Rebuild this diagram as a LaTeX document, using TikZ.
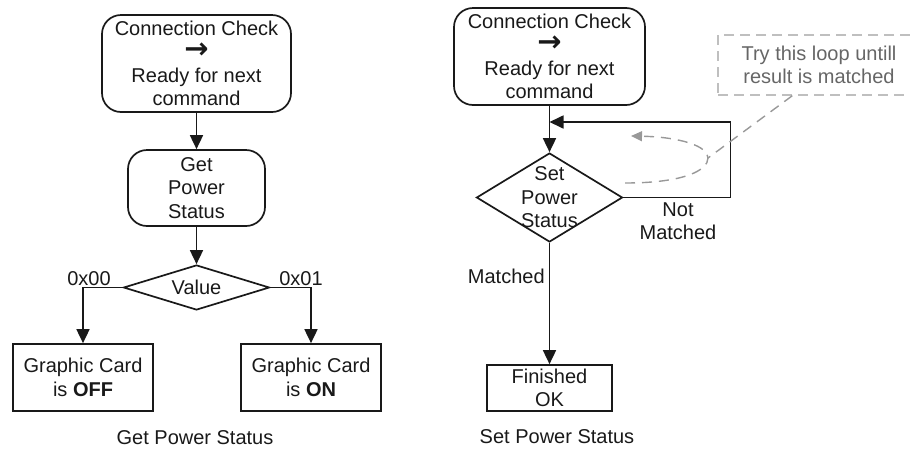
\documentclass[tikz,border=0pt]{standalone}
\usepackage{fontspec}
\setmainfont{Liberation Sans}
\newfontfamily\arrowfont{DejaVu Sans}
\usetikzlibrary{shapes.geometric,arrows.meta,calc}
\newcommand{\nextstep}{\smash{\scalebox{1.45}{\arrowfont\bfseries →}}}
\begin{document}
\begin{tikzpicture}[x=1pt,y=-1pt,
  font=\fontsize{20}{23.5}\selectfont,
  line/.style={draw=black!90, line width=1.7pt},
  flow/.style={line, -{Triangle[length=14pt,width=13pt]}},
  roundbox/.style={line, rounded corners=19pt, inner sep=0pt, align=center, text=black!90},
  plainbox/.style={line, inner sep=0pt, align=center, text=black!90},
  decision/.style={line, diamond, inner sep=0pt},
  lbl/.style={inner sep=0pt, align=center, text=black!90},
  hint/.style={draw=black!25, line width=1.4pt, dash pattern=on 10pt off 6pt,
               inner sep=0pt, align=center, text=black!60},
  hintline/.style={draw=black!40, line width=1.4pt, dash pattern=on 10pt off 7pt},
]
\clip (0,0) rectangle (910,448);

% ---- Get Power Status flow ----
\node[roundbox, minimum width=189pt, minimum height=97pt] (chkA) at (196.5,63.5)
  {Connection Check\\\nextstep\\Ready for next\\command};
\node[roundbox, minimum width=137pt, minimum height=76pt] (getA) at (196.5,188)
  {Get\\Power\\Status};
\node[decision, minimum width=146pt, minimum height=45pt] (val) at (196.5,287.5) {};
\node[lbl] (valtxt) at (val) {Value};
\node[plainbox, minimum width=140pt, minimum height=67pt] (off) at (83,377.5)
  {Graphic Card\\is \textbf{OFF}};
\node[plainbox, minimum width=140pt, minimum height=67pt] (on) at (311,377.5)
  {Graphic Card\\is \textbf{ON}};

\draw[flow] (chkA) -- (getA);
\draw[flow] (getA) -- (val);
\draw[flow] (val.west) -| (off.north);
\draw[flow] (val.east) -| (on.north);
\node[lbl] (zero) at (89,279) {0x00};
\node[lbl] (one) at (301,279) {0x01};
\node[lbl] (capA) at (195,437.5) {Get Power Status};

% ---- Set Power Status flow ----
\node[roundbox, minimum width=191pt, minimum height=97pt] (chkB) at (549.5,56.5)
  {Connection Check\\\nextstep\\Ready for next\\command};
\node[decision, minimum width=146pt, minimum height=89pt] (sps) at (549.5,197.5) {};
\node[lbl] (spstxt) at (sps) {Set\\Power\\Status};
\node[plainbox, minimum width=125pt, minimum height=46pt] (fin) at (549.5,388)
  {Finished\\OK};
\coordinate (loopin) at (549.5,122);

\draw[flow] (chkB) -- (sps);
\draw[flow] (sps.east) -- ++(107,0) |- (loopin);
\draw[flow] (sps) -- node[lbl, pos=0.28, left=4pt] {Matched} (fin);
\node[lbl] (nm) at (678,221) {Not\\Matched};
\node[lbl] (capB) at (557,437) {Set Power Status};

% ---- retry note ----
\node[hint, minimum width=202pt, minimum height=60pt] (note) at (819,65)
  {Try this loop untill\\result is matched};
\coordinate (loopmark) at (708,158);
\draw[hintline] ($(note.south west)+(75,0)$) -- (loopmark);
\draw[hintline, -{Triangle[length=11pt,width=10pt]}]
  (625,183) .. controls (685,183) and (708,170) .. (loopmark)
  .. controls (708,146) and (680,137) .. (631,136);
\end{tikzpicture}
\end{document}
